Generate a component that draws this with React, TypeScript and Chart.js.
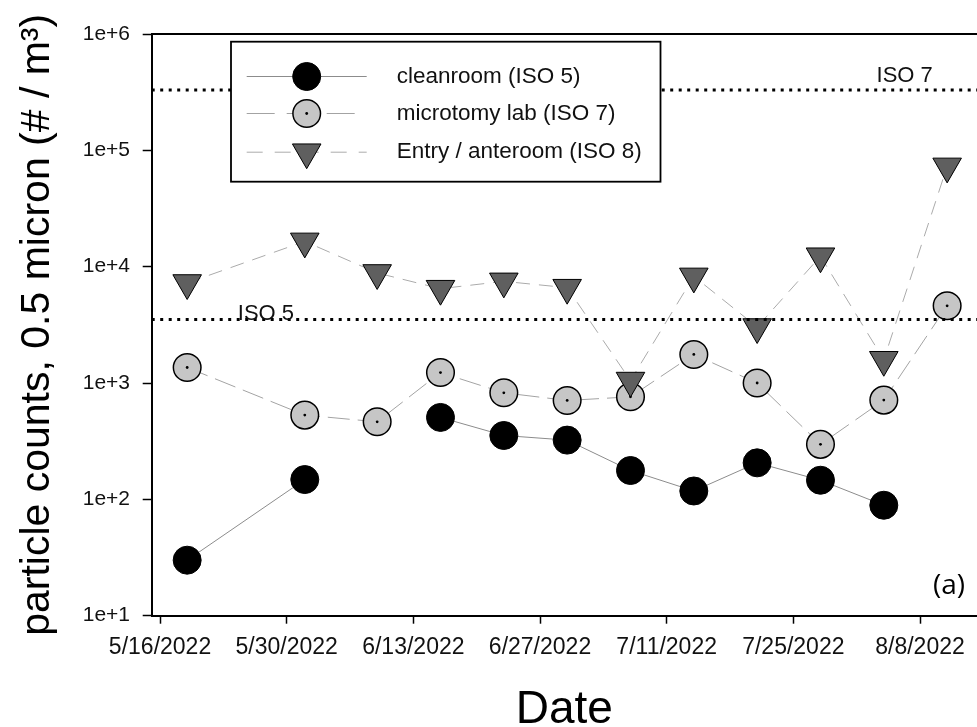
import React, { useEffect, useRef } from 'react';
import { Chart, registerables } from 'chart.js';

Chart.register(...registerables);

// ---------- data ----------
const sampleDates = [
  '2022-05-19', '2022-06-01', '2022-06-09', '2022-06-16', '2022-06-23', '2022-06-30',
  '2022-07-07', '2022-07-14', '2022-07-21', '2022-07-28', '2022-08-04', '2022-08-11',
];
const cleanroom = [30, 148, null, 506, 354, 323, 177, 118, 206, 146, 89, null];
const microtomy = [1360, 530, 464, 1230, 824, 708, 761, 1760, 1000, 297, 713, 4610];
const entry = [7240, 16500, 8830, 6470, 7480, 6600, 1050, 8250, 3030, 12300, 1585, 72800];
const seriesLabels = ['cleanroom (ISO 5)', 'microtomy lab (ISO 7)', 'Entry / anteroom (ISO 8)'];
const iso5Limit = 3520;
const iso7Limit = 330000;
const isoLabels = ['ISO 5', 'ISO 7'];
const xTickDates = ['2022-05-16', '2022-05-30', '2022-06-13', '2022-06-27', '2022-07-11', '2022-07-25', '2022-08-08'];
const yTickValues = [10, 100, 1000, 10000, 100000, 1000000];
const xTitle = 'Date';
const yTitle = 'particle counts, 0.5 micron (# / m\u00B3)';
const panelLabel = '(a)';

// ---------- helpers ----------
const ORIGIN = Date.UTC(2022, 4, 16);
const DAY = 86400000;
const toDay = (s: string) => {
  const [y, m, d] = s.split('-').map(Number);
  return (Date.UTC(y, m - 1, d) - ORIGIN) / DAY;
};
const fmtDay = (v: number) => {
  const dt = new Date(ORIGIN + Math.round(v) * DAY);
  return `${dt.getUTCMonth() + 1}/${dt.getUTCDate()}/${dt.getUTCFullYear()}`;
};
const pts = (vals: (number | null)[]) => sampleDates.map((d, i) => ({ x: toDay(d), y: vals[i] }));

const X_MIN = -0.92;
const X_MAX = 90.3;
const FAMILY = '"Liberation Sans", Arial, sans-serif';

const STYLE = {
  clean: { line: '#8c8c8c', dash: [] as number[], fill: '#000000', r: 14, bw: 1 },
  micro: { line: '#a3a3a3', dash: [22, 8], fill: '#c6c6c6', r: 13.8, bw: 1.5 },
  entry: { line: '#ababab', dash: [14, 9], fill: '#5f5f5f', r: 16.5, bw: 1 },
};

function drawCircle(ctx: CanvasRenderingContext2D, x: number, y: number, r: number, fill: string, bw: number) {
  ctx.beginPath();
  ctx.arc(x, y, r, 0, Math.PI * 2);
  ctx.fillStyle = fill;
  ctx.fill();
  ctx.lineWidth = bw;
  ctx.strokeStyle = '#000';
  ctx.stroke();
}
function drawTriangleDown(ctx: CanvasRenderingContext2D, x: number, y: number, r: number, fill: string, bw: number) {
  ctx.beginPath();
  let rad = Math.PI;
  for (let i = 0; i < 3; i++) {
    const px = x + Math.sin(rad) * r;
    const py = y - Math.cos(rad) * r;
    if (i === 0) ctx.moveTo(px, py);
    else ctx.lineTo(px, py);
    rad += (2 * Math.PI) / 3;
  }
  ctx.closePath();
  ctx.fillStyle = fill;
  ctx.fill();
  ctx.lineWidth = bw;
  ctx.strokeStyle = '#000';
  ctx.stroke();
}

const decorPlugin = {
  id: 'decor',
  afterDatasetsDraw(chart: any) {
    const { ctx, chartArea, scales } = chart;
    ctx.save();
    // top frame line
    ctx.beginPath();
    ctx.strokeStyle = '#000';
    ctx.lineWidth = 2;
    ctx.moveTo(chartArea.left, chartArea.top);
    ctx.lineTo(chartArea.right, chartArea.top);
    ctx.stroke();

    // ISO labels
    ctx.fillStyle = '#111';
    ctx.font = `22px ${FAMILY}`;
    ctx.textAlign = 'left';
    ctx.textBaseline = 'alphabetic';
    ctx.fillText(isoLabels[0], scales.x.getPixelForValue(8.6), scales.y.getPixelForValue(iso5Limit) + 1);
    ctx.fillText(isoLabels[1], scales.x.getPixelForValue(79.2), scales.y.getPixelForValue(iso7Limit) - 8);

    // panel label
    ctx.font = '28px "Open Sans", sans-serif';
    ctx.textAlign = 'center';
    ctx.fillStyle = '#000';
    ctx.fillText(panelLabel, chartArea.right - 28, chartArea.bottom - 22);

    // legend box
    const bx = chartArea.left + 79.3;
    const by = chartArea.top + 7.7;
    const bw = 429.5;
    const bh = 140;
    ctx.fillStyle = '#fff';
    ctx.fillRect(bx, by, bw, bh);
    ctx.lineWidth = 1.8;
    ctx.strokeStyle = '#000';
    ctx.strokeRect(bx, by, bw, bh);

    const rows = [34.8, 71.8, 110.5];
    const styles = [STYLE.clean, STYLE.micro, STYLE.entry];
    rows.forEach((dy, i) => {
      const y = by + dy;
      const st = styles[i];
      ctx.save();
      ctx.beginPath();
      ctx.setLineDash(i === 0 ? [] : i === 1 ? [28, 12] : [16, 12]);
      ctx.strokeStyle = st.line;
      ctx.lineWidth = 1;
      ctx.moveTo(bx + 15.7, y);
      ctx.lineTo(bx + 135.7, y);
      ctx.stroke();
      ctx.restore();
      const mx = bx + 75.7;
      if (i === 2) {
        drawTriangleDown(ctx, mx, y, st.r, st.fill, st.bw);
      } else {
        drawCircle(ctx, mx, y, st.r, st.fill, st.bw);
        if (i === 1) {
          ctx.beginPath();
          ctx.arc(mx, y, 1.4, 0, Math.PI * 2);
          ctx.fillStyle = '#000';
          ctx.fill();
        }
      }
      ctx.fillStyle = '#111';
      ctx.font = `22.5px ${FAMILY}`;
      ctx.textAlign = 'left';
      ctx.textBaseline = 'middle';
      ctx.fillText(seriesLabels[i], bx + 165.7, y);
    });
    ctx.restore();
  },
};

export default function App() {
  const ref = useRef<HTMLCanvasElement>(null);

  useEffect(() => {
    const canvas = ref.current;
    if (!canvas) return;
    const isoLine = (v: number, order: number) => ({
      label: 'iso',
      data: [{ x: X_MIN, y: v }, { x: X_MAX, y: v }],
      borderColor: '#000',
      borderWidth: 3,
      borderDash: [3, 5.5],
      pointRadius: 0,
      fill: false,
      order,
    });
    const chart = new Chart(canvas, {
      type: 'line',
      data: {
        datasets: [
          isoLine(iso5Limit, 0) as any,
          isoLine(iso7Limit, 0) as any,
          {
            label: seriesLabels[2],
            data: pts(entry),
            borderColor: STYLE.entry.line,
            borderWidth: 1,
            borderDash: STYLE.entry.dash,
            pointStyle: 'triangle',
            pointRotation: 180,
            pointRadius: STYLE.entry.r,
            pointBackgroundColor: STYLE.entry.fill,
            pointBorderColor: '#000',
            pointBorderWidth: STYLE.entry.bw,
            order: 1,
          },
          {
            label: 'center',
            data: pts(microtomy),
            showLine: false,
            pointRadius: 1.4,
            pointBackgroundColor: '#000',
            pointBorderWidth: 0,
            order: 2,
          },
          {
            label: seriesLabels[1],
            data: pts(microtomy),
            borderColor: STYLE.micro.line,
            borderWidth: 1,
            borderDash: STYLE.micro.dash,
            pointRadius: STYLE.micro.r,
            pointBackgroundColor: STYLE.micro.fill,
            pointBorderColor: '#000',
            pointBorderWidth: STYLE.micro.bw,
            order: 3,
          },
          {
            label: seriesLabels[0],
            data: pts(cleanroom),
            borderColor: STYLE.clean.line,
            borderWidth: 1,
            pointRadius: STYLE.clean.r,
            pointBackgroundColor: STYLE.clean.fill,
            pointBorderColor: '#000',
            pointBorderWidth: STYLE.clean.bw,
            spanGaps: false,
            order: 4,
          },
        ],
      },
      options: {
        animation: false,
        responsive: false,
        events: [],
        layout: { autoPadding: false, padding: { left: 0, right: 0, top: 34, bottom: 0 } },
        plugins: { legend: { display: false }, tooltip: { enabled: false } },
        scales: {
          x: {
            type: 'linear',
            min: X_MIN,
            max: X_MAX,
            afterBuildTicks: (s: any) => {
              s.ticks = xTickDates.map((d) => ({ value: toDay(d) }));
            },
            ticks: {
              callback: (v: any) => fmtDay(Number(v)),
              font: { family: FAMILY, size: 23 },
              color: '#111',
              padding: 10.5,
              autoSkip: false,
              maxRotation: 0,
              minRotation: 0,
            },
            grid: { display: true, drawOnChartArea: false, drawTicks: true, tickLength: 8, tickColor: '#000', tickWidth: 1.5 },
            border: { display: true, color: '#000', width: 2 },
            title: {
              display: true,
              text: xTitle,
              color: '#000',
              font: { family: FAMILY, size: 46, lineHeight: 0.65 },
              padding: { top: 23.0, bottom: 1.8 },
            },
          },
          y: {
            type: 'logarithmic',
            min: 10,
            max: 1000000,
            afterBuildTicks: (s: any) => {
              s.ticks = yTickValues.map((v) => ({ value: v }));
            },
            ticks: {
              callback: (v: any) => `1e+${Math.round(Math.log10(Number(v)))}`,
              font: { family: FAMILY, size: 21 },
              color: '#111',
              padding: 12.7,
            },
            grid: { display: true, drawOnChartArea: false, drawTicks: true, tickLength: 9, tickColor: '#000', tickWidth: 1.5 },
            border: { display: true, color: '#000', width: 2 },
            title: {
              display: true,
              text: yTitle,
              color: '#000',
              font: { family: FAMILY, size: 41, lineHeight: 1.2 },
              padding: { top: 13.5, bottom: 7.3 },
            },
          },
        },
      } as any,
      plugins: [decorPlugin],
    });
    return () => chart.destroy();
  }, []);

  return (
    <div style={{ position: 'absolute', left: 0, top: 0, width: 977, height: 727, background: '#fff' }}>
      <canvas ref={ref} width={977} height={727} style={{ display: 'block', width: 977, height: 727 }} />
    </div>
  );
}
